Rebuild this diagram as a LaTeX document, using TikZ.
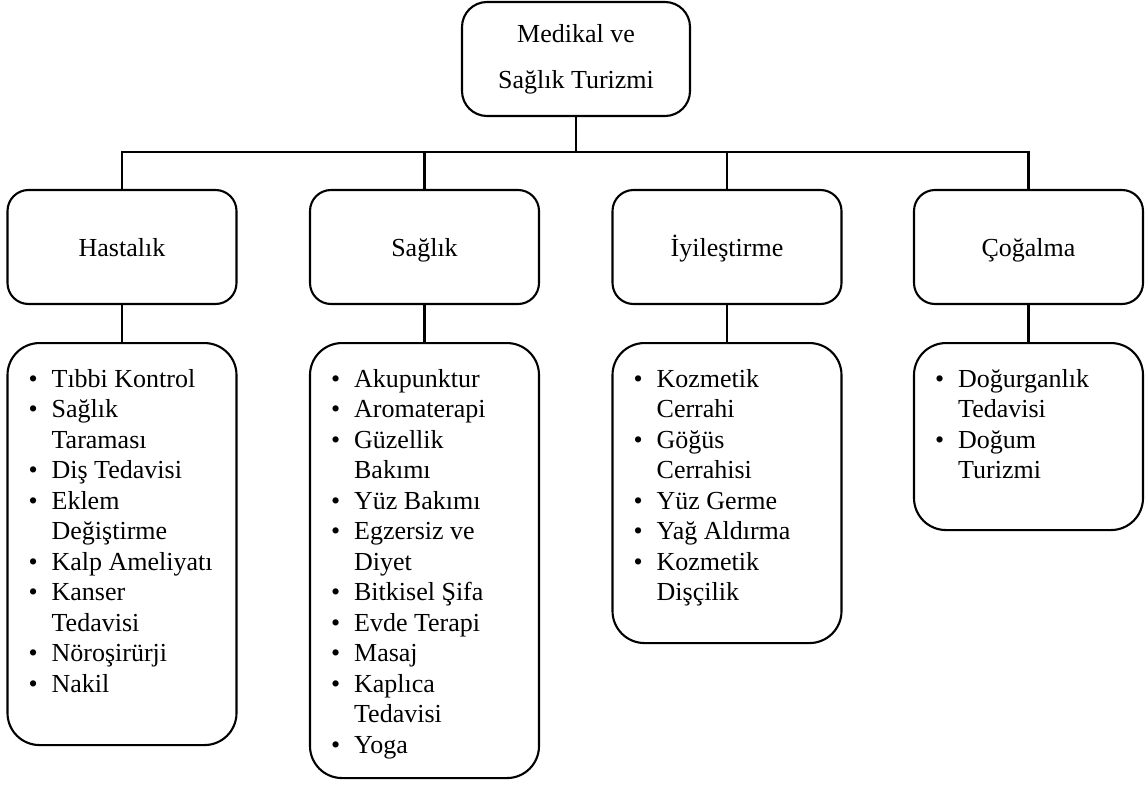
\documentclass[tikz,border=0pt]{standalone}
\usepackage{fontspec}
\setmainfont{Liberation Serif}
\newcommand{\bitem}[1]{\makebox[23pt][l]{•}#1}
\newcommand{\bcont}[1]{\hspace*{23pt}#1}
\tikzset{
  line/.style={line width=2.1pt},
  topbox/.style={draw, line width=2.1pt, rounded corners=25pt, minimum width=228pt, minimum height=114pt, align=center, inner sep=0pt, font=\fontsize{26}{46}\selectfont},
  rowbox/.style={draw, line width=2.1pt, rounded corners=21pt, minimum width=229pt, minimum height=114pt, inner sep=0pt, text height=18pt, text depth=0pt, font=\fontsize{26}{30.5}\selectfont},
  listbox/.style={draw, line width=2.1pt, rounded corners=32pt, minimum width=229pt, anchor=north, inner sep=0pt},
  listtext/.style={anchor=north west, inner sep=0pt, align=left, font=\fontsize{26}{30.5}\selectfont}
}
\begin{document}
\begin{tikzpicture}[x=1pt,y=1pt]
\useasboundingbox (0,0) rectangle (1147,-784);
% top
\node[topbox] (top) at (576,-59) {Medikal ve\\Sağlık Turizmi};
% row
\node[rowbox] (h1) at (122,-247) {Hastalık};
\node[rowbox] (h2) at (424.5,-247) {Sağlık};
\node[rowbox] (h3) at (727,-247) {İyileştirme};
\node[rowbox] (h4) at (1028.5,-247) {Çoğalma};
% list boxes
\node[listbox, minimum height=402pt] (l1) at (122,-342) {};
\node[listbox, minimum height=435pt] (l2) at (424.5,-342) {};
\node[listbox, minimum height=300pt] (l3) at (727,-342) {};
\node[listbox, minimum height=187pt] (l4) at (1028.5,-342) {};
% list texts
\node[listtext] (t1) at ([shift={(22pt,-23.65pt)}]l1.north west) {\strut\bitem{Tıbbi Kontrol}\\\bitem{Sağlık}\\\bcont{Taraması}\\\bitem{Diş Tedavisi}\\\bitem{Eklem}\\\bcont{Değiştirme}\\\bitem{Kalp Ameliyatı}\\\bitem{Kanser}\\\bcont{Tedavisi}\\\bitem{Nöroşirürji}\\\bitem{Nakil}};
\node[listtext] (t2) at ([shift={(22pt,-23.65pt)}]l2.north west) {\strut\bitem{Akupunktur}\\\bitem{Aromaterapi}\\\bitem{Güzellik}\\\bcont{Bakımı}\\\bitem{Yüz Bakımı}\\\bitem{Egzersiz ve}\\\bcont{Diyet}\\\bitem{Bitkisel Şifa}\\\bitem{Evde Terapi}\\\bitem{Masaj}\\\bitem{Kaplıca}\\\bcont{Tedavisi}\\\bitem{Yoga}};
\node[listtext] (t3) at ([shift={(22pt,-23.65pt)}]l3.north west) {\strut\bitem{Kozmetik}\\\bcont{Cerrahi}\\\bitem{Göğüs}\\\bcont{Cerrahisi}\\\bitem{Yüz Germe}\\\bitem{Yağ Aldırma}\\\bitem{Kozmetik}\\\bcont{Dişçilik}};
\node[listtext] (t4) at ([shift={(22pt,-23.65pt)}]l4.north west) {\strut\bitem{Doğurganlık}\\\bcont{Tedavisi}\\\bitem{Doğum}\\\bcont{Turizmi}};
% connectors
\coordinate (bus) at (576,-152);
\draw[line] (top.south) -- (bus);
\draw[line] (h1.north) |- (bus) -| (h4.north);
\draw[line] (h2.north) -- (h2.north |- bus);
\draw[line] (h3.north) -- (h3.north |- bus);
\draw[line] (h1.south) -- (l1.north);
\draw[line] (h2.south) -- (l2.north);
\draw[line] (h3.south) -- (l3.north);
\draw[line] (h4.south) -- (l4.north);
\end{tikzpicture}
\end{document}
